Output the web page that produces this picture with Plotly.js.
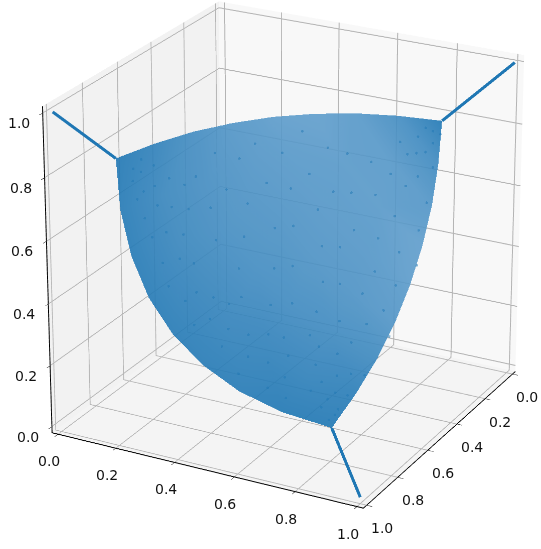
<!DOCTYPE html>
<html>
<head>
<script src="https://cdn.plot.ly/plotly-3.0.1.min.js"></script>
<style>html,body{margin:0;padding:0;background:#fff;overflow:hidden}
#plot{position:absolute;left:-1158px;top:-1202px}</style>
</head>
<body>
<div id="plot"></div>
<script>
var tickVals = [0, 0.2, 0.4, 0.6, 0.8, 1];
var tickText = ['0.0', '0.2', '0.4', '0.6', '0.8', '1.0'];
var spikeX = [1, 0.87, null, 0, 0.15, null, 1, 0.86];
var spikeY = [0, 0.13, null, 1, 0.835, null, 1, 0.835];
var spikeZ = [1, 0.835, null, 1, 0.835, null, 0, 0.122];

// cloud outline and interior
var meshX = [.87,.754,.645,.544,.45,.364,.285,.214,.15,
    .917,.795,.68,.572,.472,.38,.294,.217,
    .95,.821,.70,.586,.48,.381,.29,
    .97,.835,.707,.588,.474,.37,
    .975,.834,.70,.574,.455,
    .967,.82,.68,.547,
    .945,.792,.646,
    .91,.75,
    .86];
var meshY = [.13,.192,.261,.338,.423,.514,.614,.72,.835,
    .17,.246,.329,.419,.517,.624,.737,.857,
    .224,.313,.41,.514,.626,.745,.873,
    .292,.394,.506,.623,.749,.882,
    .373,.49,.614,.746,.885,
    .468,.599,.736,.882,
    .576,.721,.873,
    .699,.857,
    .835];
var meshZ = [.835,.852,.865,.872,.875,.872,.865,.852,.835,
    .698,.717,.731,.739,.743,.742,.735,.724,
    .575,.595,.61,.619,.625,.625,.62,
    .465,.487,.502,.514,.519,.521,
    .369,.391,.409,.421,.429,
    .287,.31,.33,.343,
    .2175,.242,.263,
    .163,.19,
    .122];
var meshDensity = [1,.85,.65,.5,.42,.4,.45,.65,1,
    .95,.75,.62,.52,.46,.44,.46,.7,
    .95,.75,.62,.55,.48,.44,.5,
    .95,.78,.65,.55,.48,.4,
    .95,.8,.68,.55,.42,
    .95,.85,.7,.5,
    .95,.85,.7,
    1,.9,
    1];
// samples of the cloud, denser at the three corners and along the lower left edge
var cloudX = [.84,.83,.86,.81,.85,.87,.82,.79,.84,.88,.89,.86,.81,.77,.75,.90,.87,.83,.78,.92,
    .91,.88,.84,.93,.89,.85,.91,.87,.83,.92,.88,.84,.89,.85,.81,.87,.84,.80,
    .85,.83,.84,.81,.82,.79,.80,.83,.77,.76,.78,.73,.72,.74,.70,
    .17,.18,.20,.19,.23,.22,.25,.24,.28,.27,.30,.32,.26,
    .70,.66,.72,.76,.62,.58,.64,.70,.75,.79,.52,.48,.56,.62,.68,.74,.77,.70,.64,.58,.52,.46,.41,.38,.44,.50,.55,.60,.66,.72,.63,.57,.51,.46,.40,.35,.31,.36,.42,.48,.54,.59,.65,.52,.46,.40,.35,.30,.33,.38,.56];
var cloudY = [.17,.19,.18,.18,.21,.20,.23,.21,.25,.23,.26,.29,.28,.25,.29,.30,.34,.33,.32,.33,
    .38,.40,.37,.42,.45,.44,.50,.50,.48,.56,.57,.55,.64,.62,.60,.69,.67,.66,
    .82,.83,.79,.83,.80,.81,.77,.75,.84,.80,.74,.83,.78,.73,.86,
    .84,.82,.83,.80,.82,.79,.80,.85,.82,.78,.86,.80,.75,
    .30,.38,.36,.40,.32,.38,.44,.46,.47,.50,.40,.47,.46,.52,.55,.57,.63,.62,.59,.56,.52,.55,.50,.57,.62,.60,.64,.67,.68,.69,.74,.71,.68,.70,.66,.62,.68,.72,.76,.78,.77,.81,.79,.83,.84,.82,.78,.74,.85,.87,.87];
var cloudZ = [.80,.79,.77,.82,.74,.72,.75,.80,.70,.67,.62,.63,.69,.76,.74,.55,.56,.62,.68,.49,
    .45,.47,.54,.39,.40,.45,.33,.37,.43,.26,.30,.35,.22,.28,.35,.19,.24,.29,
    .14,.15,.17,.16,.19,.20,.23,.21,.19,.24,.27,.24,.29,.31,.23,
    .80,.81,.78,.82,.76,.80,.76,.72,.70,.76,.63,.68,.79,
    .75,.71,.67,.59,.80,.78,.67,.59,.51,.44,.81,.78,.71,.60,.50,.41,.33,.41,.50,.60,.69,.72,.83,.78,.67,.63,.54,.45,.38,.33,.35,.44,.53,.57,.66,.76,.73,.65,.54,.46,.41,.34,.30,.36,.42,.50,.59,.70,.55,.46,.30];

function axis(bg) {
    return {
        range: [-0.0208, 1.0208], tickvals: tickVals, ticktext: tickText, showticklabels: false,
        title: {text: ''}, showbackground: true, backgroundcolor: bg,
        gridcolor: '#b4b4b4', gridwidth: 2, zeroline: false, showspikes: false,
        showline: true, linecolor: '#000', linewidth: 2, ticks: 'outside', ticklen: 5,
        tickcolor: '#000'
    };
}
var labelFont = {family: 'DejaVu Sans', size: 14, color: '#111'};
var labels = [];
tickVals.forEach(function (v, i) {
    labels.push({x: 1.0208, y: -0.0208, z: v, text: tickText[i], showarrow: false, font: labelFont, xshift: -24, yshift: -10});
    labels.push({x: 1.0208, y: v, z: -0.0208, text: tickText[i], showarrow: false, font: labelFont, xshift: -9, yshift: -27});
    labels.push({x: v, y: 1.0208, z: -0.0208, text: tickText[i], showarrow: false, font: labelFont, xshift: 15, yshift: -23});
});
var size = 2892;
var r = 10, az = 28 * Math.PI / 180, el = 23 * Math.PI / 180;
Plotly.newPlot('plot', [{
    type: 'mesh3d', x: meshX, y: meshY, z: meshZ, intensity: meshDensity,
    colorscale: [[0, '#a9cbe4'], [0.45, '#5597c8'], [1, '#1f77b4']], cmin: 0, cmax: 1, showscale: false,
    opacity: 0.9, lighting: {ambient: 1, diffuse: 0, specular: 0, roughness: 1, fresnel: 0}
}, {
    type: 'scatter3d', mode: 'markers', x: cloudX, y: cloudY, z: cloudZ,
    marker: {color: '#1f77b4', size: 1.5, opacity: 0.5, line: {width: 0}}
}, {
    type: 'scatter3d', mode: 'lines', x: spikeX, y: spikeY, z: spikeZ,
    line: {color: '#1f77b4', width: 6}
}], {
    width: size, height: size, margin: {l: 0, r: 0, t: 0, b: 0}, showlegend: false,
    scene: {
        domain: {x: [0, 1], y: [0, 1]},
        aspectmode: 'cube', annotations: labels,
        xaxis: axis('#f8f8f8'), yaxis: axis('#f2f2f2'), zaxis: axis('#f4f4f4'),
        camera: {eye: {x: r * Math.cos(az) * Math.cos(el), y: r * Math.sin(az) * Math.cos(el), z: r * Math.sin(el)},
            center: {x: 0, y: 0, z: 0}, up: {x: 0, y: 0, z: 1}}
    }
}, {displayModeBar: false});
</script>
</body>
</html>
